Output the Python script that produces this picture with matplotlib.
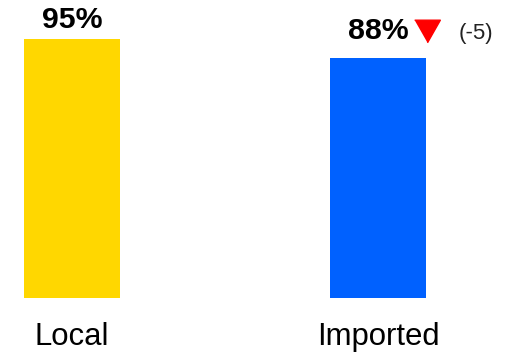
import matplotlib.pyplot as plt
from matplotlib.transforms import offset_copy

# share of each origin, current period vs change from previous
categories = ['Local', 'Imported']
values = [95, 88]
changes = [None, -5]
colors = ['#FFD700', '#0061FF']
label_pad = [8, 14]  # points above bar top for the value label

plt.rcParams['font.family'] = ['Liberation Sans', 'DejaVu Sans']

fig = plt.figure(figsize=(5.18, 3.54), dpi=100)
ax = fig.add_axes([0, 0.159, 1, 0.769])

x = list(range(len(categories)))
ax.bar(x, values, width=0.314, color=colors)
ax.set_xlim(-0.2353, 1.4575)
ax.set_ylim(0, 100)
ax.axis('off')

for i, (v, c) in enumerate(zip(values, changes)):
    ax.annotate(f'{v}%', (i, v), xytext=(0, label_pad[i]), textcoords='offset points',
                ha='center', va='baseline', fontsize=21.8, fontweight='bold')
    ax.annotate(categories[i], (i, 0), xytext=(0, -34),
                textcoords='offset points', ha='center', va='baseline', fontsize=22.4)
    if c is not None:
        tri = offset_copy(ax.transData, fig=fig, x=35.5, y=19.5, units='points')
        ax.plot([i], [v], transform=tri, marker=[(-1, 0.88), (1, 0.88), (0, -0.88)],
                markersize=18.5, color='#FF0000', linestyle='none', clip_on=False)
        ax.annotate(f'({c})', (i, v), xytext=(58, 13.5), textcoords='offset points',
                    ha='left', va='baseline', fontsize=16, color='#222222')

fig.savefig('out.png', dpi=100)
